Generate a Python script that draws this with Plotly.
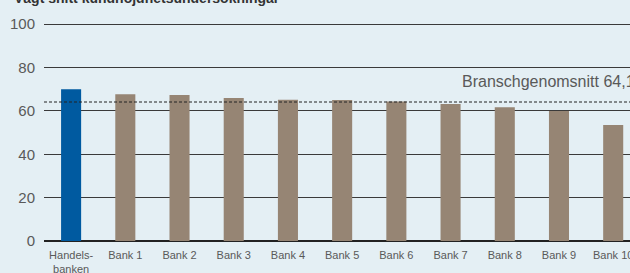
import plotly.graph_objects as go

categories = ["Handels-<br>banken", "Bank 1", "Bank 2", "Bank 3", "Bank 4", "Bank 5",
              "Bank 6", "Bank 7", "Bank 8", "Bank 9", "Bank 10"]
values = [70.0, 67.7, 67.3, 66.0, 65.2, 65.0, 64.3, 63.2, 61.7, 60.0, 53.5]
branch_avg = 64.1
branch_label = "Branschgenomsnitt 64,1"
title_text = "Vägt snitt kundnöjdhetsundersökningar"
y_ticks = [0, 20, 40, 60, 80, 100]

BLUE = "#005AA0"
BROWN = "#968574"
BG = "#E4EFF4"
TXT = "#595959"

colors = [BLUE] + [BROWN] * (len(categories) - 1)

PLOT_H = 273 - 22 - 32

fig = go.Figure()
fig.add_trace(go.Bar(
    x=list(range(len(categories))), y=values,
    marker=dict(color=colors, line=dict(width=0)),
    width=0.37, hoverinfo="skip",
))

fig.add_shape(type="line", xref="paper", yref="y", x0=0, x1=1,
              y0=branch_avg, y1=branch_avg, layer="above",
              line=dict(color="#222222", width=1, dash="3px,2px"))

fig.add_annotation(text=branch_label, xref="paper", yref="paper",
                   x=(460 - 44) / 586, y=1 - (81 - 22) / PLOT_H,
                   xanchor="left", yanchor="middle", showarrow=False,
                   font=dict(size=16, color=TXT, family="Liberation Sans"))

fig.add_annotation(text="<b>" + title_text + "</b>", xref="paper", yref="paper",
                   x=(12 - 44) / 586, y=1 + (22 - 8) / PLOT_H, xanchor="left", yanchor="bottom",
                   showarrow=False,
                   font=dict(size=14, color="#333333", family="Liberation Sans"))

fig.update_layout(
    width=630, height=273,
    margin=dict(l=44, r=0, t=22, b=32),
    paper_bgcolor=BG, plot_bgcolor=BG,
    showlegend=False,
    font=dict(family="Liberation Sans", color=TXT),
    xaxis=dict(
        range=[-0.5, 10.31], automargin=False,
        tickmode="array", tickvals=list(range(len(categories))), ticktext=categories,
        tickfont=dict(size=11, color=TXT), showgrid=False, zeroline=False,
        showline=False, ticks="", ticklabelstandoff=6, ticklabeloverflow="allow",
    ),
    yaxis=dict(
        range=[0, 101], tickmode="array", tickvals=y_ticks, automargin=False,
        tickfont=dict(size=15, color=TXT),
        showgrid=True, gridcolor="#3A3A3A", gridwidth=1,
        zeroline=True, zerolinecolor="#222222", zerolinewidth=2,
        showline=False, ticks="", ticklabelstandoff=8,
    ),
)

fig.write_html("out.html", config={"displayModeBar": False},
               post_script="document.body.style.margin='0';document.body.style.overflow='hidden';")
